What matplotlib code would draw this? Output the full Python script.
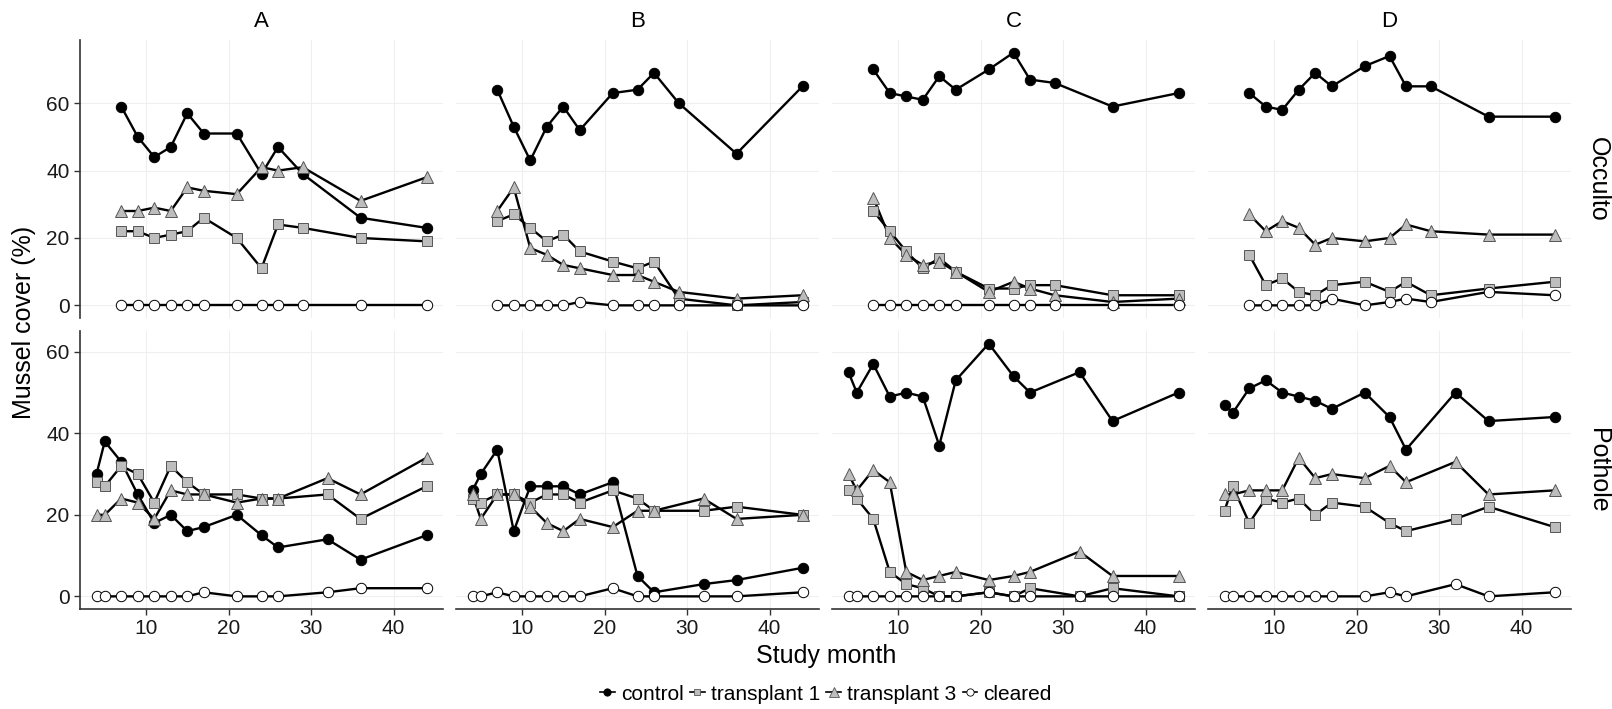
# Mussel cover by study month, facet grid of site (A-D) x habitat (Occulto / Pothole)

import matplotlib.pyplot as plt

plt.rcParams['font.family'] = ['Liberation Sans', 'DejaVu Sans']

sites = ['A', 'B', 'C', 'D']
habitats = ['Occulto', 'Pothole']
treatments = ['control', 'transplant 1', 'transplant 3', 'cleared']

months_occ = [7, 9, 11, 13, 15, 17, 21, 24, 26, 29, 36, 44]
months_pot = [4, 5, 7, 9, 11, 13, 15, 17, 21, 24, 26, 32, 36, 44]

# Occulto
occ_A_control = [59, 50, 44, 47, 57, 51, 51, 39, 47, 39, 26, 23]
occ_A_t1 = [22, 22, 20, 21, 22, 26, 20, 11, 24, 23, 20, 19]
occ_A_t3 = [28, 28, 29, 28, 35, 34, 33, 41, 40, 41, 31, 38]
occ_A_cleared = [0, 0, 0, 0, 0, 0, 0, 0, 0, 0, 0, 0]

occ_B_control = [64, 53, 43, 53, 59, 52, 63, 64, 69, 60, 45, 65]
occ_B_t1 = [25, 27, 23, 19, 21, 16, 13, 11, 13, 2, 0, 1]
occ_B_t3 = [28, 35, 17, 15, 12, 11, 9, 9, 7, 4, 2, 3]
occ_B_cleared = [0, 0, 0, 0, 0, 1, 0, 0, 0, 0, 0, 0]

occ_C_control = [70, 63, 62, 61, 68, 64, 70, 75, 67, 66, 59, 63]
occ_C_t1 = [28, 22, 16, 11, 14, 10, 5, 5, 6, 6, 3, 3]
occ_C_t3 = [32, 20, 15, 12, 13, 10, 4, 7, 5, 3, 1, 2]
occ_C_cleared = [0, 0, 0, 0, 0, 0, 0, 0, 0, 0, 0, 0]

occ_D_control = [63, 59, 58, 64, 69, 65, 71, 74, 65, 65, 56, 56]
occ_D_t1 = [15, 6, 8, 4, 3, 6, 7, 4, 7, 3, 5, 7]
occ_D_t3 = [27, 22, 25, 23, 18, 20, 19, 20, 24, 22, 21, 21]
occ_D_cleared = [0, 0, 0, 0, 0, 2, 0, 1, 2, 1, 4, 3]

# Pothole
pot_A_control = [30, 38, 33, 25, 18, 20, 16, 17, 20, 15, 12, 14, 9, 15]
pot_A_t1 = [28, 27, 32, 30, 23, 32, 28, 25, 25, 24, 24, 25, 19, 27]
pot_A_t3 = [20, 20, 24, 23, 19, 26, 25, 25, 23, 24, 24, 29, 25, 34]
pot_A_cleared = [0, 0, 0, 0, 0, 0, 0, 1, 0, 0, 0, 1, 2, 2]

pot_B_control = [26, 30, 36, 16, 27, 27, 27, 25, 28, 5, 1, 3, 4, 7]
pot_B_t1 = [24, 23, 25, 25, 23, 25, 25, 23, 26, 24, 21, 21, 22, 20]
pot_B_t3 = [25, 19, 25, 25, 22, 18, 16, 19, 17, 21, 21, 24, 19, 20]
pot_B_cleared = [0, 0, 1, 0, 0, 0, 0, 0, 2, 0, 0, 0, 0, 1]

pot_C_control = [55, 50, 57, 49, 50, 49, 37, 53, 62, 54, 50, 55, 43, 50]
pot_C_t1 = [26, 24, 19, 6, 3, 2, 0, 0, 1, 0, 2, 0, 2, 0]
pot_C_t3 = [30, 26, 31, 28, 6, 4, 5, 6, 4, 5, 6, 11, 5, 5]
pot_C_cleared = [0, 0, 0, 0, 0, 0, 0, 0, 1, 0, 0, 0, 0, 0]

pot_D_control = [47, 45, 51, 53, 50, 49, 48, 46, 50, 44, 36, 50, 43, 44]
pot_D_t1 = [21, 27, 18, 24, 23, 24, 20, 23, 22, 18, 16, 19, 22, 17]
pot_D_t3 = [25, 25, 26, 26, 26, 34, 29, 30, 29, 32, 28, 33, 25, 26]
pot_D_cleared = [0, 0, 0, 0, 0, 0, 0, 0, 0, 1, 0, 3, 0, 1]

panels = {
    ('Occulto', 'A'): [occ_A_control, occ_A_t1, occ_A_t3, occ_A_cleared],
    ('Occulto', 'B'): [occ_B_control, occ_B_t1, occ_B_t3, occ_B_cleared],
    ('Occulto', 'C'): [occ_C_control, occ_C_t1, occ_C_t3, occ_C_cleared],
    ('Occulto', 'D'): [occ_D_control, occ_D_t1, occ_D_t3, occ_D_cleared],
    ('Pothole', 'A'): [pot_A_control, pot_A_t1, pot_A_t3, pot_A_cleared],
    ('Pothole', 'B'): [pot_B_control, pot_B_t1, pot_B_t3, pot_B_cleared],
    ('Pothole', 'C'): [pot_C_control, pot_C_t1, pot_C_t3, pot_C_cleared],
    ('Pothole', 'D'): [pot_D_control, pot_D_t1, pot_D_t3, pot_D_cleared],
}
months = {'Occulto': months_occ, 'Pothole': months_pot}
ylims = {'Occulto': (-3.75, 78.75), 'Pothole': (-3.1, 65.1)}

# marker style per treatment: shape, size, fill, edge
styles = {
    'control': ('o', 7.5, 'black', 'black'),
    'transplant 1': ('s', 6.6, '#BDBDBD', '#555555'),
    'transplant 3': ('^', 9.3, '#BDBDBD', '#555555'),
    'cleared': ('o', 7.5, 'white', 'black'),
}

W, H = 1612, 709
fig = plt.figure(figsize=(W / 100, H / 100), dpi=100)

axis_col = '#333333'
grid_col = '#EFEFEF'
lefts = [80, 456, 832, 1208]
tops = {'Occulto': 40, 'Pothole': 331}
pw, ph = 363, 278

for r, hab in enumerate(habitats):
    for c, site in enumerate(sites):
        ax = fig.add_axes([lefts[c] / W, (H - tops[hab] - ph) / H, pw / W, ph / H])
        series = panels[(hab, site)]
        x = months[hab]
        for vals in series:
            ax.plot(x, vals, color='black', lw=1.7, zorder=2, solid_joinstyle='round')
        for name, vals in zip(treatments, series):
            m, ms, fc, ec = styles[name]
            ax.plot(x, vals, ls='none', marker=m, ms=ms, mfc=fc, mec=ec, mew=0.7, zorder=3)

        ax.set_xlim(2, 46)
        ax.set_ylim(*ylims[hab])
        ax.set_xticks([10, 20, 30, 40])
        ax.set_yticks([0, 20, 40, 60])
        ax.grid(True, color=grid_col, lw=0.8)
        ax.set_axisbelow(True)
        for s in ax.spines.values():
            s.set_visible(False)
        ax.tick_params(colors=axis_col, labelcolor='#1a1a1a', labelsize=15, length=4, width=1)

        if c == 0:
            ax.spines['left'].set_visible(True)
            ax.spines['left'].set_color(axis_col)
            ax.spines['left'].set_linewidth(1.2)
        else:
            ax.tick_params(axis='y', length=0, labelleft=False)
        if r == 1:
            ax.spines['bottom'].set_visible(True)
            ax.spines['bottom'].set_color(axis_col)
            ax.spines['bottom'].set_linewidth(1.2)
        else:
            ax.tick_params(axis='x', length=0, labelbottom=False)

        if r == 0:
            ax.text(0.5, 1.03, site, transform=ax.transAxes, ha='center', va='bottom', fontsize=16)
        if c == 3:
            ax.text(1.04, 0.5, hab, transform=ax.transAxes, ha='left', va='center',
                    rotation=-90, fontsize=18)

fig.text(24 / W, 1 - 322 / H, 'Mussel cover (%)', rotation=90, ha='center', va='center', fontsize=18)
fig.text(826 / W, 1 - 656 / H, 'Study month', ha='center', va='center', fontsize=18)

handles = []
for name in treatments:
    m, ms, fc, ec = styles[name]
    h, = plt.plot([], [], color='black', lw=1.2, marker=m, ms=ms * 0.7, mfc=fc, mec=ec, mew=0.6)
    handles.append(h)
fig.legend(handles, treatments, loc='center', bbox_to_anchor=(826 / W, 1 - 694 / H), ncol=4,
           frameon=False, fontsize=15, handlelength=0.7, handletextpad=0.3, columnspacing=0.3,
           borderaxespad=0)

fig.savefig('out.png', dpi=100)
